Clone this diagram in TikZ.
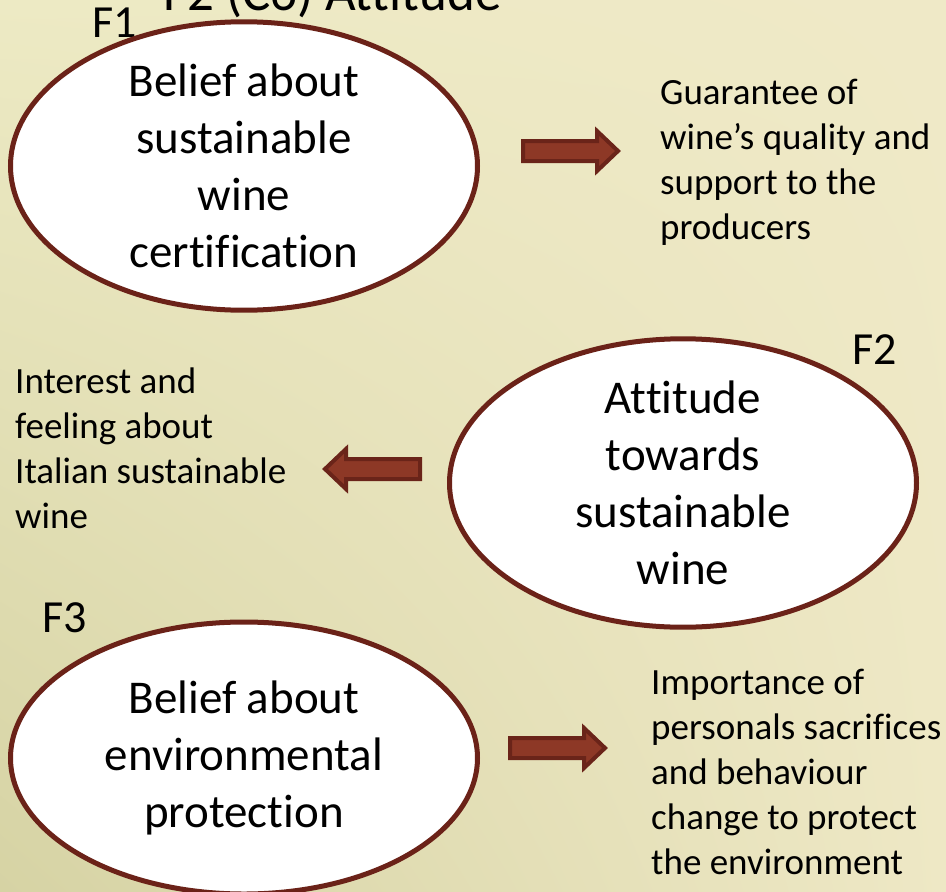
\documentclass[tikz,border=0pt]{standalone}
\usepackage{fontspec}
\setmainfont{Carlito}[Ligatures={NoCommon}]
\usetikzlibrary{shapes.geometric,shadings}
\definecolor{ellborder}{HTML}{6B2218}
\definecolor{arrdark}{HTML}{6A2419}
\definecolor{arrfill}{HTML}{8D3826}
\definecolor{bgll}{HTML}{D6D3A4}
\definecolor{bgul}{HTML}{EDEAC4}
\definecolor{bgur}{HTML}{EFE9C7}
\definecolor{bglr}{HTML}{EEE8C5}
\begin{document}
\begin{tikzpicture}[x=1pt,y=-1pt,
  bubble/.style={ellipse, draw=ellborder, line width=5pt, fill=white,
    minimum width=467pt, minimum height=267pt, inner sep=0pt, align=center,
    font=\fontsize{47}{57}\selectfont},
  side/.style={anchor=base west, inner sep=0pt, align=left,
    font=\fontsize{37}{45}\selectfont},
  flabel/.style={anchor=base west, inner sep=0pt, font=\fontsize{46}{55}\selectfont},
  blockarrow/.style={draw=arrdark, fill=arrfill, line width=4pt, line join=miter},
  rarr/.pic={\draw[blockarrow] (-47,-10) -- (27,-10) -- (27,-20) -- (48,0)
      -- (27,20) -- (27,10) -- (-47,10) -- cycle;}]
\useasboundingbox (0,0) rectangle (946,892);
\clip (0,0) rectangle (946,892);
\shade[lower left=bgll, upper left=bgul, upper right=bgur, lower right=bglr]
  (0,0) rectangle (946,892);

% title (cut off at top)
\node[anchor=base west, inner sep=0pt, font=\fontsize{53}{64}\selectfont] (title) at (163,10) {F2 (C6) Attitude};

% factor labels
\node[flabel] (f1) at (92,37) {F1};
\node[flabel] (f2) at (852,364) {F2};
\node[flabel] (f3) at (42,632) {F3};

% ellipses
\node[bubble] (e1) at (244,166) {Belief about\\sustainable\\wine\\certification};
\node[bubble] (e2) at (683,483) {Attitude\\towards\\sustainable\\wine};
\node[bubble, minimum height=272pt] (e3) at (244,758) {Belief about\\environmental\\protection};

% side texts (anchored at the baseline of their last line)
\node[side] (t1) at (660,239) {Guarantee of\\wine’s quality and\\support to the\\producers};
\node[side] (t2) at (15,528) {Interest and\\feeling about\\Italian sustainable\\wine};
\node[side] (t3) at (651,874) {Importance of\\personals sacrifices\\and behaviour\\change to protect\\the environment};

% block arrows
\pic (a1) at (570,151) {rarr};
\pic[xscale=-1] (a2) at (373,469) {rarr};
\pic (a3) at (557,748) {rarr};
\end{tikzpicture}
\end{document}
